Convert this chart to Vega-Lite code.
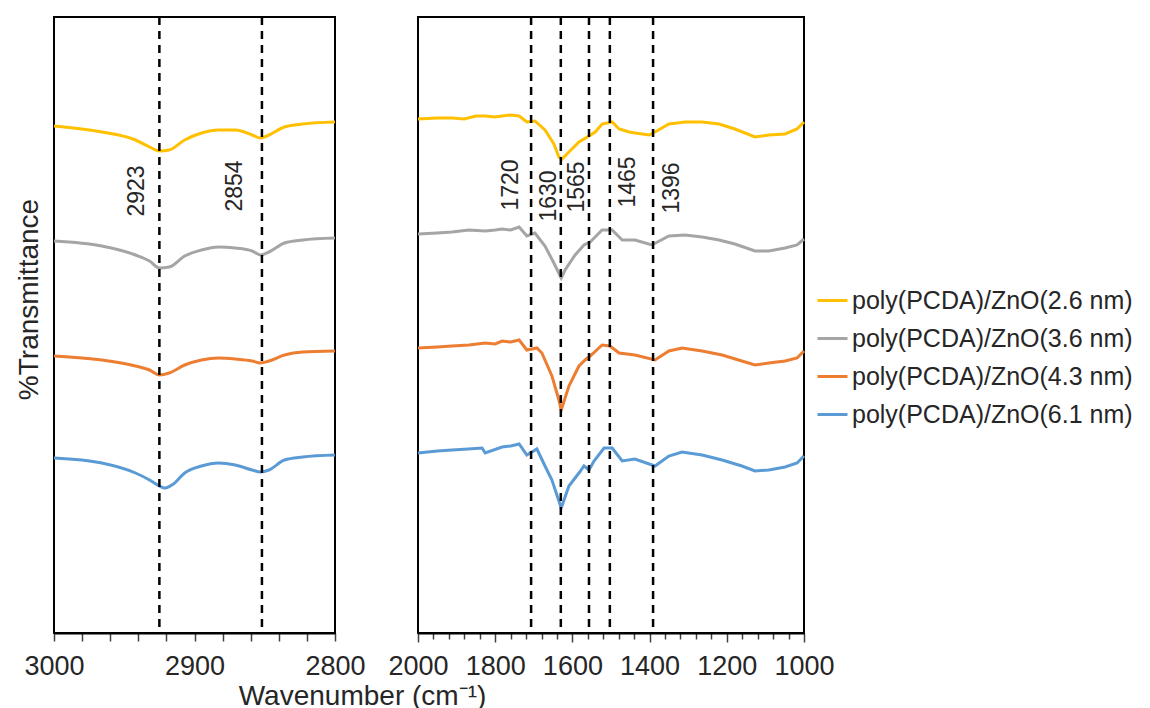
{
  "$schema": "https://vega.github.io/schema/vega-lite/v6.json",
  "padding": {"left": 14, "top": 14, "right": 0, "bottom": 0},
  "background": "white",
  "bounds": "flush",
  "spacing": 83,
  "config": {
    "font": "Liberation Sans",
    "view": {"stroke": "black", "strokeWidth": 2},
    "axis": {"labelFont": "Liberation Sans", "titleFont": "Liberation Sans", "labelColor": "#262626", "titleColor": "#262626", "titleFontWeight": "normal", "grid": false, "domainColor": "black", "domainWidth": 2, "tickColor": "#404040", "tickWidth": 1.5},
    "legend": {"labelFont": "Liberation Sans", "padding": 0}
  },
  "datasets": {
    "spec": [
      {"p":"L","s":"poly(PCDA)/ZnO(2.6 nm)","w":3000,"t":507},{"p":"L","s":"poly(PCDA)/ZnO(2.6 nm)","w":2966,"t":501},{"p":"L","s":"poly(PCDA)/ZnO(2.6 nm)","w":2942,"t":493},{"p":"L","s":"poly(PCDA)/ZnO(2.6 nm)","w":2932,"t":486},{"p":"L","s":"poly(PCDA)/ZnO(2.6 nm)","w":2925,"t":482},{"p":"L","s":"poly(PCDA)/ZnO(2.6 nm)","w":2918,"t":483},{"p":"L","s":"poly(PCDA)/ZnO(2.6 nm)","w":2907,"t":493},{"p":"L","s":"poly(PCDA)/ZnO(2.6 nm)","w":2895,"t":500},{"p":"L","s":"poly(PCDA)/ZnO(2.6 nm)","w":2883,"t":503},{"p":"L","s":"poly(PCDA)/ZnO(2.6 nm)","w":2871,"t":503},{"p":"L","s":"poly(PCDA)/ZnO(2.6 nm)","w":2859,"t":498},{"p":"L","s":"poly(PCDA)/ZnO(2.6 nm)","w":2853,"t":495},{"p":"L","s":"poly(PCDA)/ZnO(2.6 nm)","w":2847,"t":498},{"p":"L","s":"poly(PCDA)/ZnO(2.6 nm)","w":2836,"t":506},{"p":"L","s":"poly(PCDA)/ZnO(2.6 nm)","w":2823,"t":509},{"p":"L","s":"poly(PCDA)/ZnO(2.6 nm)","w":2800,"t":511},
      {"p":"L","s":"poly(PCDA)/ZnO(3.6 nm)","w":3000,"t":392},{"p":"L","s":"poly(PCDA)/ZnO(3.6 nm)","w":2966,"t":387},{"p":"L","s":"poly(PCDA)/ZnO(3.6 nm)","w":2942,"t":378},{"p":"L","s":"poly(PCDA)/ZnO(3.6 nm)","w":2932,"t":372},{"p":"L","s":"poly(PCDA)/ZnO(3.6 nm)","w":2925,"t":365},{"p":"L","s":"poly(PCDA)/ZnO(3.6 nm)","w":2918,"t":366},{"p":"L","s":"poly(PCDA)/ZnO(3.6 nm)","w":2907,"t":377},{"p":"L","s":"poly(PCDA)/ZnO(3.6 nm)","w":2895,"t":383},{"p":"L","s":"poly(PCDA)/ZnO(3.6 nm)","w":2883,"t":386},{"p":"L","s":"poly(PCDA)/ZnO(3.6 nm)","w":2871,"t":385},{"p":"L","s":"poly(PCDA)/ZnO(3.6 nm)","w":2859,"t":382},{"p":"L","s":"poly(PCDA)/ZnO(3.6 nm)","w":2853,"t":378},{"p":"L","s":"poly(PCDA)/ZnO(3.6 nm)","w":2847,"t":381},{"p":"L","s":"poly(PCDA)/ZnO(3.6 nm)","w":2836,"t":390},{"p":"L","s":"poly(PCDA)/ZnO(3.6 nm)","w":2823,"t":393},{"p":"L","s":"poly(PCDA)/ZnO(3.6 nm)","w":2800,"t":395},
      {"p":"L","s":"poly(PCDA)/ZnO(4.3 nm)","w":3000,"t":277},{"p":"L","s":"poly(PCDA)/ZnO(4.3 nm)","w":2966,"t":273},{"p":"L","s":"poly(PCDA)/ZnO(4.3 nm)","w":2942,"t":267},{"p":"L","s":"poly(PCDA)/ZnO(4.3 nm)","w":2932,"t":263},{"p":"L","s":"poly(PCDA)/ZnO(4.3 nm)","w":2925,"t":258},{"p":"L","s":"poly(PCDA)/ZnO(4.3 nm)","w":2918,"t":260},{"p":"L","s":"poly(PCDA)/ZnO(4.3 nm)","w":2907,"t":268},{"p":"L","s":"poly(PCDA)/ZnO(4.3 nm)","w":2895,"t":273},{"p":"L","s":"poly(PCDA)/ZnO(4.3 nm)","w":2883,"t":275},{"p":"L","s":"poly(PCDA)/ZnO(4.3 nm)","w":2871,"t":274},{"p":"L","s":"poly(PCDA)/ZnO(4.3 nm)","w":2859,"t":272},{"p":"L","s":"poly(PCDA)/ZnO(4.3 nm)","w":2853,"t":270},{"p":"L","s":"poly(PCDA)/ZnO(4.3 nm)","w":2847,"t":272},{"p":"L","s":"poly(PCDA)/ZnO(4.3 nm)","w":2836,"t":278},{"p":"L","s":"poly(PCDA)/ZnO(4.3 nm)","w":2823,"t":281},{"p":"L","s":"poly(PCDA)/ZnO(4.3 nm)","w":2800,"t":282},
      {"p":"L","s":"poly(PCDA)/ZnO(6.1 nm)","w":3000,"t":175},{"p":"L","s":"poly(PCDA)/ZnO(6.1 nm)","w":2966,"t":170},{"p":"L","s":"poly(PCDA)/ZnO(6.1 nm)","w":2942,"t":160},{"p":"L","s":"poly(PCDA)/ZnO(6.1 nm)","w":2932,"t":153},{"p":"L","s":"poly(PCDA)/ZnO(6.1 nm)","w":2925,"t":147},{"p":"L","s":"poly(PCDA)/ZnO(6.1 nm)","w":2921,"t":145},{"p":"L","s":"poly(PCDA)/ZnO(6.1 nm)","w":2915,"t":149},{"p":"L","s":"poly(PCDA)/ZnO(6.1 nm)","w":2907,"t":160},{"p":"L","s":"poly(PCDA)/ZnO(6.1 nm)","w":2895,"t":167},{"p":"L","s":"poly(PCDA)/ZnO(6.1 nm)","w":2883,"t":170},{"p":"L","s":"poly(PCDA)/ZnO(6.1 nm)","w":2871,"t":168},{"p":"L","s":"poly(PCDA)/ZnO(6.1 nm)","w":2859,"t":163},{"p":"L","s":"poly(PCDA)/ZnO(6.1 nm)","w":2853,"t":161},{"p":"L","s":"poly(PCDA)/ZnO(6.1 nm)","w":2847,"t":163},{"p":"L","s":"poly(PCDA)/ZnO(6.1 nm)","w":2836,"t":173},{"p":"L","s":"poly(PCDA)/ZnO(6.1 nm)","w":2823,"t":176},{"p":"L","s":"poly(PCDA)/ZnO(6.1 nm)","w":2800,"t":178},

      {"p":"R","s":"poly(PCDA)/ZnO(2.6 nm)","w":2000,"t":514},{"p":"R","s":"poly(PCDA)/ZnO(2.6 nm)","w":1950,"t":515},{"p":"R","s":"poly(PCDA)/ZnO(2.6 nm)","w":1912,"t":515},{"p":"R","s":"poly(PCDA)/ZnO(2.6 nm)","w":1880,"t":514},{"p":"R","s":"poly(PCDA)/ZnO(2.6 nm)","w":1850,"t":517},{"p":"R","s":"poly(PCDA)/ZnO(2.6 nm)","w":1826,"t":517},{"p":"R","s":"poly(PCDA)/ZnO(2.6 nm)","w":1800,"t":516},{"p":"R","s":"poly(PCDA)/ZnO(2.6 nm)","w":1782,"t":517},{"p":"R","s":"poly(PCDA)/ZnO(2.6 nm)","w":1760,"t":518},{"p":"R","s":"poly(PCDA)/ZnO(2.6 nm)","w":1738,"t":517},{"p":"R","s":"poly(PCDA)/ZnO(2.6 nm)","w":1718,"t":511},{"p":"R","s":"poly(PCDA)/ZnO(2.6 nm)","w":1697,"t":512},{"p":"R","s":"poly(PCDA)/ZnO(2.6 nm)","w":1671,"t":503},{"p":"R","s":"poly(PCDA)/ZnO(2.6 nm)","w":1648,"t":489},{"p":"R","s":"poly(PCDA)/ZnO(2.6 nm)","w":1635,"t":476},{"p":"R","s":"poly(PCDA)/ZnO(2.6 nm)","w":1627,"t":474},{"p":"R","s":"poly(PCDA)/ZnO(2.6 nm)","w":1609,"t":481},{"p":"R","s":"poly(PCDA)/ZnO(2.6 nm)","w":1583,"t":491},{"p":"R","s":"poly(PCDA)/ZnO(2.6 nm)","w":1557,"t":497},{"p":"R","s":"poly(PCDA)/ZnO(2.6 nm)","w":1541,"t":501},{"p":"R","s":"poly(PCDA)/ZnO(2.6 nm)","w":1523,"t":509},{"p":"R","s":"poly(PCDA)/ZnO(2.6 nm)","w":1497,"t":511},{"p":"R","s":"poly(PCDA)/ZnO(2.6 nm)","w":1479,"t":504},{"p":"R","s":"poly(PCDA)/ZnO(2.6 nm)","w":1453,"t":501},{"p":"R","s":"poly(PCDA)/ZnO(2.6 nm)","w":1438,"t":500},{"p":"R","s":"poly(PCDA)/ZnO(2.6 nm)","w":1401,"t":498},{"p":"R","s":"poly(PCDA)/ZnO(2.6 nm)","w":1386,"t":501},{"p":"R","s":"poly(PCDA)/ZnO(2.6 nm)","w":1350,"t":509},{"p":"R","s":"poly(PCDA)/ZnO(2.6 nm)","w":1308,"t":511},{"p":"R","s":"poly(PCDA)/ZnO(2.6 nm)","w":1264,"t":511},{"p":"R","s":"poly(PCDA)/ZnO(2.6 nm)","w":1220,"t":509},{"p":"R","s":"poly(PCDA)/ZnO(2.6 nm)","w":1179,"t":504},{"p":"R","s":"poly(PCDA)/ZnO(2.6 nm)","w":1127,"t":496},{"p":"R","s":"poly(PCDA)/ZnO(2.6 nm)","w":1091,"t":498},{"p":"R","s":"poly(PCDA)/ZnO(2.6 nm)","w":1049,"t":499},{"p":"R","s":"poly(PCDA)/ZnO(2.6 nm)","w":1018,"t":504},{"p":"R","s":"poly(PCDA)/ZnO(2.6 nm)","w":1000,"t":511},

      {"p":"R","s":"poly(PCDA)/ZnO(3.6 nm)","w":2000,"t":399},{"p":"R","s":"poly(PCDA)/ZnO(3.6 nm)","w":1950,"t":400},{"p":"R","s":"poly(PCDA)/ZnO(3.6 nm)","w":1912,"t":401},{"p":"R","s":"poly(PCDA)/ZnO(3.6 nm)","w":1868,"t":403},{"p":"R","s":"poly(PCDA)/ZnO(3.6 nm)","w":1826,"t":402},{"p":"R","s":"poly(PCDA)/ZnO(3.6 nm)","w":1800,"t":403},{"p":"R","s":"poly(PCDA)/ZnO(3.6 nm)","w":1782,"t":404},{"p":"R","s":"poly(PCDA)/ZnO(3.6 nm)","w":1760,"t":403},{"p":"R","s":"poly(PCDA)/ZnO(3.6 nm)","w":1738,"t":406},{"p":"R","s":"poly(PCDA)/ZnO(3.6 nm)","w":1718,"t":397},{"p":"R","s":"poly(PCDA)/ZnO(3.6 nm)","w":1697,"t":400},{"p":"R","s":"poly(PCDA)/ZnO(3.6 nm)","w":1671,"t":387},{"p":"R","s":"poly(PCDA)/ZnO(3.6 nm)","w":1648,"t":370},{"p":"R","s":"poly(PCDA)/ZnO(3.6 nm)","w":1629,"t":355},{"p":"R","s":"poly(PCDA)/ZnO(3.6 nm)","w":1619,"t":363},{"p":"R","s":"poly(PCDA)/ZnO(3.6 nm)","w":1593,"t":378},{"p":"R","s":"poly(PCDA)/ZnO(3.6 nm)","w":1570,"t":388},{"p":"R","s":"poly(PCDA)/ZnO(3.6 nm)","w":1554,"t":391},{"p":"R","s":"poly(PCDA)/ZnO(3.6 nm)","w":1523,"t":403},{"p":"R","s":"poly(PCDA)/ZnO(3.6 nm)","w":1497,"t":403},{"p":"R","s":"poly(PCDA)/ZnO(3.6 nm)","w":1471,"t":393},{"p":"R","s":"poly(PCDA)/ZnO(3.6 nm)","w":1438,"t":393},{"p":"R","s":"poly(PCDA)/ZnO(3.6 nm)","w":1394,"t":388},{"p":"R","s":"poly(PCDA)/ZnO(3.6 nm)","w":1350,"t":397},{"p":"R","s":"poly(PCDA)/ZnO(3.6 nm)","w":1308,"t":398},{"p":"R","s":"poly(PCDA)/ZnO(3.6 nm)","w":1264,"t":396},{"p":"R","s":"poly(PCDA)/ZnO(3.6 nm)","w":1220,"t":393},{"p":"R","s":"poly(PCDA)/ZnO(3.6 nm)","w":1179,"t":389},{"p":"R","s":"poly(PCDA)/ZnO(3.6 nm)","w":1127,"t":382},{"p":"R","s":"poly(PCDA)/ZnO(3.6 nm)","w":1091,"t":382},{"p":"R","s":"poly(PCDA)/ZnO(3.6 nm)","w":1049,"t":385},{"p":"R","s":"poly(PCDA)/ZnO(3.6 nm)","w":1018,"t":388},{"p":"R","s":"poly(PCDA)/ZnO(3.6 nm)","w":1000,"t":394},

      {"p":"R","s":"poly(PCDA)/ZnO(4.3 nm)","w":2000,"t":285},{"p":"R","s":"poly(PCDA)/ZnO(4.3 nm)","w":1950,"t":286},{"p":"R","s":"poly(PCDA)/ZnO(4.3 nm)","w":1912,"t":287},{"p":"R","s":"poly(PCDA)/ZnO(4.3 nm)","w":1868,"t":288},{"p":"R","s":"poly(PCDA)/ZnO(4.3 nm)","w":1826,"t":290},{"p":"R","s":"poly(PCDA)/ZnO(4.3 nm)","w":1800,"t":289},{"p":"R","s":"poly(PCDA)/ZnO(4.3 nm)","w":1782,"t":292},{"p":"R","s":"poly(PCDA)/ZnO(4.3 nm)","w":1760,"t":291},{"p":"R","s":"poly(PCDA)/ZnO(4.3 nm)","w":1738,"t":293},{"p":"R","s":"poly(PCDA)/ZnO(4.3 nm)","w":1718,"t":283},{"p":"R","s":"poly(PCDA)/ZnO(4.3 nm)","w":1692,"t":285},{"p":"R","s":"poly(PCDA)/ZnO(4.3 nm)","w":1679,"t":280},{"p":"R","s":"poly(PCDA)/ZnO(4.3 nm)","w":1653,"t":257},{"p":"R","s":"poly(PCDA)/ZnO(4.3 nm)","w":1635,"t":233},{"p":"R","s":"poly(PCDA)/ZnO(4.3 nm)","w":1629,"t":223},{"p":"R","s":"poly(PCDA)/ZnO(4.3 nm)","w":1609,"t":247},{"p":"R","s":"poly(PCDA)/ZnO(4.3 nm)","w":1583,"t":267},{"p":"R","s":"poly(PCDA)/ZnO(4.3 nm)","w":1567,"t":273},{"p":"R","s":"poly(PCDA)/ZnO(4.3 nm)","w":1554,"t":277},{"p":"R","s":"poly(PCDA)/ZnO(4.3 nm)","w":1523,"t":288},{"p":"R","s":"poly(PCDA)/ZnO(4.3 nm)","w":1503,"t":287},{"p":"R","s":"poly(PCDA)/ZnO(4.3 nm)","w":1479,"t":280},{"p":"R","s":"poly(PCDA)/ZnO(4.3 nm)","w":1438,"t":278},{"p":"R","s":"poly(PCDA)/ZnO(4.3 nm)","w":1386,"t":273},{"p":"R","s":"poly(PCDA)/ZnO(4.3 nm)","w":1350,"t":282},{"p":"R","s":"poly(PCDA)/ZnO(4.3 nm)","w":1316,"t":285},{"p":"R","s":"poly(PCDA)/ZnO(4.3 nm)","w":1264,"t":282},{"p":"R","s":"poly(PCDA)/ZnO(4.3 nm)","w":1212,"t":278},{"p":"R","s":"poly(PCDA)/ZnO(4.3 nm)","w":1161,"t":272},{"p":"R","s":"poly(PCDA)/ZnO(4.3 nm)","w":1127,"t":268},{"p":"R","s":"poly(PCDA)/ZnO(4.3 nm)","w":1091,"t":270},{"p":"R","s":"poly(PCDA)/ZnO(4.3 nm)","w":1049,"t":272},{"p":"R","s":"poly(PCDA)/ZnO(4.3 nm)","w":1018,"t":275},{"p":"R","s":"poly(PCDA)/ZnO(4.3 nm)","w":1000,"t":282},

      {"p":"R","s":"poly(PCDA)/ZnO(6.1 nm)","w":2000,"t":180},{"p":"R","s":"poly(PCDA)/ZnO(6.1 nm)","w":1950,"t":182},{"p":"R","s":"poly(PCDA)/ZnO(6.1 nm)","w":1912,"t":183},{"p":"R","s":"poly(PCDA)/ZnO(6.1 nm)","w":1870,"t":184},{"p":"R","s":"poly(PCDA)/ZnO(6.1 nm)","w":1834,"t":185},{"p":"R","s":"poly(PCDA)/ZnO(6.1 nm)","w":1826,"t":180},{"p":"R","s":"poly(PCDA)/ZnO(6.1 nm)","w":1782,"t":186},{"p":"R","s":"poly(PCDA)/ZnO(6.1 nm)","w":1760,"t":187},{"p":"R","s":"poly(PCDA)/ZnO(6.1 nm)","w":1738,"t":189},{"p":"R","s":"poly(PCDA)/ZnO(6.1 nm)","w":1718,"t":178},{"p":"R","s":"poly(PCDA)/ZnO(6.1 nm)","w":1692,"t":184},{"p":"R","s":"poly(PCDA)/ZnO(6.1 nm)","w":1671,"t":167},{"p":"R","s":"poly(PCDA)/ZnO(6.1 nm)","w":1653,"t":153},{"p":"R","s":"poly(PCDA)/ZnO(6.1 nm)","w":1629,"t":125},{"p":"R","s":"poly(PCDA)/ZnO(6.1 nm)","w":1609,"t":147},{"p":"R","s":"poly(PCDA)/ZnO(6.1 nm)","w":1583,"t":160},{"p":"R","s":"poly(PCDA)/ZnO(6.1 nm)","w":1570,"t":167},{"p":"R","s":"poly(PCDA)/ZnO(6.1 nm)","w":1557,"t":163},{"p":"R","s":"poly(PCDA)/ZnO(6.1 nm)","w":1544,"t":172},{"p":"R","s":"poly(PCDA)/ZnO(6.1 nm)","w":1518,"t":185},{"p":"R","s":"poly(PCDA)/ZnO(6.1 nm)","w":1497,"t":185},{"p":"R","s":"poly(PCDA)/ZnO(6.1 nm)","w":1471,"t":172},{"p":"R","s":"poly(PCDA)/ZnO(6.1 nm)","w":1438,"t":174},{"p":"R","s":"poly(PCDA)/ZnO(6.1 nm)","w":1386,"t":167},{"p":"R","s":"poly(PCDA)/ZnO(6.1 nm)","w":1350,"t":177},{"p":"R","s":"poly(PCDA)/ZnO(6.1 nm)","w":1316,"t":181},{"p":"R","s":"poly(PCDA)/ZnO(6.1 nm)","w":1264,"t":178},{"p":"R","s":"poly(PCDA)/ZnO(6.1 nm)","w":1212,"t":173},{"p":"R","s":"poly(PCDA)/ZnO(6.1 nm)","w":1161,"t":167},{"p":"R","s":"poly(PCDA)/ZnO(6.1 nm)","w":1127,"t":162},{"p":"R","s":"poly(PCDA)/ZnO(6.1 nm)","w":1091,"t":163},{"p":"R","s":"poly(PCDA)/ZnO(6.1 nm)","w":1049,"t":166},{"p":"R","s":"poly(PCDA)/ZnO(6.1 nm)","w":1018,"t":170},{"p":"R","s":"poly(PCDA)/ZnO(6.1 nm)","w":1000,"t":177}
    ],
    "rules": [
      {"p":"L","w":2925},{"p":"L","w":2852},
      {"p":"R","w":1707},{"p":"R","w":1630},{"p":"R","w":1557},{"p":"R","w":1503},{"p":"R","w":1391}
    ],
    "labels": [
      {"p":"L","w":2941,"t":442,"lab":"2923"},{"p":"L","w":2871,"t":447,"lab":"2854"},
      {"p":"R","w":1759,"t":448,"lab":"1720"},{"p":"R","w":1661,"t":437,"lab":"1630"},{"p":"R","w":1588,"t":446,"lab":"1565"},{"p":"R","w":1456,"t":451,"lab":"1465"},{"p":"R","w":1342,"t":445,"lab":"1396"}
    ]
  },
  "hconcat": [
    {
      "width": 281,
      "height": 616,
      "layer": [
        {
          "data": {"name": "spec"},
          "transform": [{"filter": "datum.p == 'L'"}],
          "mark": {"type": "line", "strokeWidth": 3, "interpolate": "monotone"},
          "encoding": {
            "x": {"field": "w", "type": "quantitative",
              "scale": {"domain": [2800, 3000], "reverse": true, "nice": false, "zero": false},
              "axis": {"title": "Wavenumber (cm⁻¹)", "values": [3000,2980,2960,2940,2920,2900,2880,2860,2840,2820,2800], "tickCount": 100,
                "labelExpr": "datum.value % 100 == 0 ? datum.label : ''", "format": "d", "labelFlush": false, "labelOverlap": false,
                "labelFontSize": 27, "titleFontSize": 28, "tickSize": 8, "labelPadding": 12,
                "titleX": 308, "titleY": 71, "titleBaseline": "alphabetic", "titleAlign": "center"}},
            "y": {"field": "t", "type": "quantitative",
              "scale": {"domain": [0, 616], "nice": false, "zero": false},
              "axis": {"title": "%Transmittance", "labels": false, "ticks": false, "domain": false, "titleFontSize": 28,
                "titleX": -17, "titleY": 282, "titleBaseline": "alphabetic", "titleAlign": "center", "titleAngle": -90}},
            "color": {"field": "s", "type": "nominal",
              "scale": {"domain": ["poly(PCDA)/ZnO(2.6 nm)","poly(PCDA)/ZnO(3.6 nm)","poly(PCDA)/ZnO(4.3 nm)","poly(PCDA)/ZnO(6.1 nm)"], "range": ["#FFC000","#A5A5A5","#ED7D31","#5B9BD5"]},
              "legend": {"title": null, "orient": "none", "legendX": 762, "legendY": 267, "symbolType": "stroke", "symbolSize": 900, "symbolStrokeWidth": 3, "labelFontSize": 25, "rowPadding": 8, "labelOffset": 3, "labelColor": "#262626", "labelLimit": 400}}
          }
        },
        {
          "data": {"name": "rules"},
          "transform": [{"filter": "datum.p == 'L'"}],
          "mark": {"type": "rule", "strokeDash": [8, 6], "strokeWidth": 2.5, "color": "black"},
          "encoding": {"x": {"field": "w", "type": "quantitative"}}
        },
        {
          "data": {"name": "labels"},
          "transform": [{"filter": "datum.p == 'L'"}],
          "mark": {"type": "text", "angle": 270, "fontSize": 23, "align": "center", "baseline": "middle", "color": "#262626", "font": "Liberation Sans"},
          "encoding": {"x": {"field": "w", "type": "quantitative"}, "y": {"field": "t", "type": "quantitative"}, "text": {"field": "lab"}}
        }
      ]
    },
    {
      "width": 386,
      "height": 616,
      "layer": [
        {
          "data": {"name": "spec"},
          "transform": [{"filter": "datum.p == 'R'"}],
          "mark": {"type": "line", "strokeWidth": 3, "interpolate": "linear"},
          "encoding": {
            "x": {"field": "w", "type": "quantitative",
              "scale": {"domain": [1000, 2000], "reverse": true, "nice": false, "zero": false},
              "axis": {"title": null, "values": [2000,1960,1920,1880,1840,1800,1760,1720,1680,1640,1600,1560,1520,1480,1440,1400,1360,1320,1280,1240,1200,1160,1120,1080,1040,1000], "tickCount": 100,
                "labelExpr": "datum.value % 200 == 0 ? datum.label : ''", "format": "d", "labelFlush": false, "labelOverlap": false,
                "labelFontSize": 27, "tickSize": {"condition": {"test": "datum.value % 200 == 0", "value": 9}, "value": 6}, "labelPadding": 11}},
            "y": {"field": "t", "type": "quantitative", "scale": {"domain": [0, 616], "nice": false, "zero": false}, "axis": null},
            "color": {"field": "s", "type": "nominal",
              "scale": {"domain": ["poly(PCDA)/ZnO(2.6 nm)","poly(PCDA)/ZnO(3.6 nm)","poly(PCDA)/ZnO(4.3 nm)","poly(PCDA)/ZnO(6.1 nm)"], "range": ["#FFC000","#A5A5A5","#ED7D31","#5B9BD5"]},
              "legend": {"title": null, "orient": "none", "legendX": 762, "legendY": 267, "symbolType": "stroke", "symbolSize": 900, "symbolStrokeWidth": 3, "labelFontSize": 25, "rowPadding": 8, "labelOffset": 3, "labelColor": "#262626", "labelLimit": 400}}
          }
        },
        {
          "data": {"name": "rules"},
          "transform": [{"filter": "datum.p == 'R'"}],
          "mark": {"type": "rule", "strokeDash": [8, 6], "strokeWidth": 2.5, "color": "black"},
          "encoding": {"x": {"field": "w", "type": "quantitative"}}
        },
        {
          "data": {"name": "labels"},
          "transform": [{"filter": "datum.p == 'R'"}],
          "mark": {"type": "text", "angle": 270, "fontSize": 23, "align": "center", "baseline": "middle", "color": "#262626", "font": "Liberation Sans"},
          "encoding": {"x": {"field": "w", "type": "quantitative"}, "y": {"field": "t", "type": "quantitative"}, "text": {"field": "lab"}}
        }
      ]
    }
  ]
}
